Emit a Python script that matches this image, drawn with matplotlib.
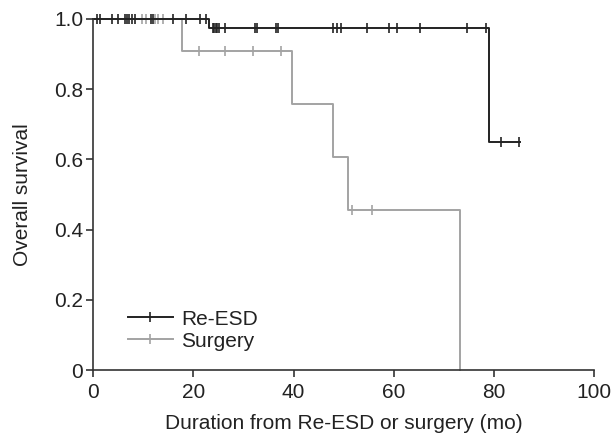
import numpy as np
import matplotlib
matplotlib.use("Agg")
import matplotlib.pyplot as plt
from matplotlib.lines import Line2D

plt.rcParams["font.family"] = ["Liberation Sans", "DejaVu Sans"]

# ---- data ----
# Re-ESD: step times (mo) and survival after each step
reesd_step_t = [0, 23.2, 79.0]
reesd_step_s = [1.0, 0.973, 0.649]
reesd_end = 85.2
reesd_censor = [0.7, 1.4, 3.7, 5.0, 6.4, 6.8, 7.2, 7.7, 8.4, 11.6, 12.0,
                16.0, 18.5, 21.4, 22.5, 23.9, 24.2, 24.5, 24.8, 25.1, 26.3,
                32.3, 32.7, 36.5, 37.0, 47.8, 48.6, 49.5, 54.6, 59.1, 60.6,
                65.3, 74.6, 78.4, 81.4, 84.9]

# Surgery
surg_step_t = [0, 17.8, 39.7, 47.9, 50.9, 73.3]
surg_step_s = [1.0, 0.909, 0.758, 0.606, 0.4545, 0.0]
surg_end = 73.3
surg_censor = [9.8, 10.5, 12.4, 13.0, 14.0, 21.2, 26.3, 31.9, 37.5, 51.6, 55.7]

black = "#222222"
gray = "#a3a3a3"
fs = 15


def step_curve(ts, ss, end):
    x = list(ts) + [end]
    y = list(ss) + [ss[-1]]
    return x, y


def surv_at(ts, ss, t):
    idx = np.searchsorted(ts, t, side="right") - 1
    return np.array(ss)[idx]


fig = plt.figure(figsize=(6.12, 4.37), dpi=100)
ax = fig.add_axes([0.152, 0.153, 0.819, 0.804])

for ts, ss, end, cens, col in [
    (surg_step_t, surg_step_s, surg_end, surg_censor, gray),
    (reesd_step_t, reesd_step_s, reesd_end, reesd_censor, black),
]:
    x, y = step_curve(ts, ss, end)
    ax.step(x, y, where="post", color=col, lw=1.4, clip_on=False)
    ax.plot(cens, surv_at(ts, ss, cens), ls="none", marker="|", ms=7,
            mew=1.2, color=col, clip_on=False)

ax.set_xlim(0, 100)
ax.set_ylim(0, 1.0)
ax.set_xticks([0, 20, 40, 60, 80, 100])
ax.set_yticks([0, 0.2, 0.4, 0.6, 0.8, 1.0])
ax.set_yticklabels(["0", "0.2", "0.4", "0.6", "0.8", "1.0"])
for s in ["top", "right"]:
    ax.spines[s].set_visible(False)
for s in ["left", "bottom"]:
    ax.spines[s].set_color("#333333")
    ax.spines[s].set_linewidth(1.2)
ax.tick_params(direction="out", length=5, width=1.2, color="#333333",
               labelsize=fs, labelcolor="#222222")
ax.tick_params(axis="x", pad=4)
ax.tick_params(axis="y", pad=2)

ax.set_xlabel("Duration from Re-ESD or surgery (mo)", fontsize=fs,
              color="#222222", labelpad=9)
ax.set_ylabel("Overall survival", fontsize=fs, color="#222222", labelpad=16)

handles = [
    Line2D([], [], color=black, lw=1.4, marker="|", ms=7, mew=1.2),
    Line2D([], [], color=gray, lw=1.4, marker="|", ms=7, mew=1.2),
]
ax.legend(handles, ["Re-ESD", "Surgery"], loc="lower left",
          bbox_to_anchor=(0.032, 0.002), frameon=False, fontsize=fs,
          handlelength=2.15, handletextpad=0.4, labelspacing=0.15,
          labelcolor="#222222")

fig.savefig("out.png", dpi=100)
